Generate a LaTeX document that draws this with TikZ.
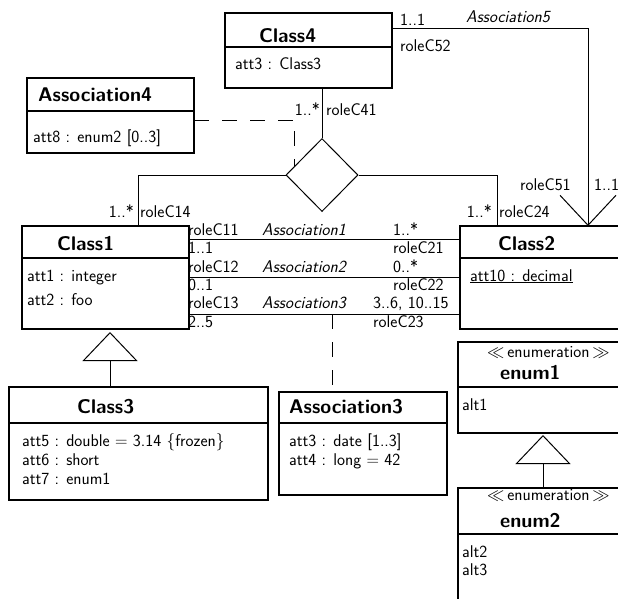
\documentclass[tikz,border=0pt]{standalone}
\usepackage{fontspec}
\renewcommand{\familydefault}{\sfdefault}
\usetikzlibrary{shapes.geometric,arrows.meta,calc}
\begin{document}
\begin{tikzpicture}[x=1pt,y=-1pt,
  box/.style={draw,line width=1.1pt,inner sep=0pt,outer sep=0pt},
  sepline/.style={line width=2pt},
  conn/.style={line width=1pt},
  dashconn/.style={line width=1pt,dash pattern=on 15pt off 13pt},
  ttl/.style={font=\fontsize{19.8}{23}\selectfont\bfseries,anchor=base west,inner sep=0pt},
  att/.style={font=\fontsize{17}{20}\selectfont,anchor=base west,inner sep=0pt},
  lbl/.style={font=\fontsize{17}{20}\selectfont,inner sep=0pt,text height=11.5pt,text depth=0pt},
  ilbl/.style={lbl,font=\fontsize{17}{20}\selectfont\itshape},
  inh/.style={line width=1pt,-{Triangle[open,length=29pt,width=55pt,line width=1pt]}},
  nav/.style={line width=1pt,-{Straight Barb[length=30pt,width=56pt,line width=1pt]}},
]
\useasboundingbox (0,0) rectangle (618,598);
\clip (0,0) rectangle (618,598);

% ---------- boxes ----------
\node[box,minimum width=167pt,minimum height=75pt] (c4) at (308.5,50.5) {};
\node[box,minimum width=167pt,minimum height=75pt] (a4) at (110.5,115.5) {};
\node[box,minimum width=167pt,minimum height=103pt] (c1) at (105.5,277.5) {};
\node[box,minimum width=200pt,minimum height=103pt] (c2) at (560,277.5) {};
\node[box,minimum width=259pt,minimum height=113pt] (c3) at (138.5,443.5) {};
\node[box,minimum width=168pt,minimum height=103pt] (a3) at (363,443.5) {};
\node[box,minimum width=202pt,minimum height=91pt] (e1) at (559,387.5) {};
\node[box,minimum width=202pt,minimum height=152pt] (e2) at (559,564) {};
\node[draw,diamond,line width=1pt,minimum width=72pt,minimum height=73pt,inner sep=0pt] (dia) at (322,175) {};

% separators
\draw[sepline] (c4.west |- 0,47) -- (c4.east |- 0,47);
\draw[sepline] (a4.west |- 0,111) -- (a4.east |- 0,111);
\draw[sepline] (c1.west |- 0,258) -- (c1.east |- 0,258);
\draw[sepline] (c2.west |- 0,258) -- (c2.east |- 0,258);
\draw[sepline] (c3.west |- 0,423) -- (c3.east |- 0,423);
\draw[sepline] (a3.west |- 0,423) -- (a3.east |- 0,423);
\draw[sepline] (e1.west |- 0,387) -- (e1.east |- 0,387);
\draw[sepline] (e2.west |- 0,534) -- (e2.east |- 0,534);

% ---------- texts in boxes ----------
\node[ttl] (c4t) at (259,42) {Class4};
\node[att] (c4a) at (235,69) {att3 : Class3};
\node[ttl] (a4t) at (38,101) {Association4};
\node[att] (a4a) at (33,142) {att8 : enum2 [0..3]};
\node[ttl] (c1t) at (57,250) {Class1};
\node[att] (c1a) at (27,281) {att1 : integer};
\node[att] (c1b) at (27,305) {att2 : foo};
\node[ttl] (c2t) at (498,250) {Class2};
\node[att] (c2a) at (470,281) {\underline{att10 : decimal}};
\node[ttl] (c3t) at (77,413) {Class3};
\node[att] (c3a) at (22,446) {att5 : double $=$ 3.14 $\{$frozen$\}$};
\node[att] (c3b) at (22,465) {att6 : short};
\node[att] (c3c) at (22,484) {att7 : enum1};
\node[ttl] (a3t) at (289,413) {Association3};
\node[att] (a3a) at (289,446) {att3 : date [1..3]};
\node[att] (a3b) at (289,465) {att4 : long $=$ 42};
\node[att] (e1s) at (487,357) {$\ll$\,enumeration\,$\gg$};
\node[ttl] (e1t) at (500,379) {enum1};
\node[att] (e1a) at (462,410) {alt1};
\node[att] (e2s) at (487,500) {$\ll$\,enumeration\,$\gg$};
\node[ttl] (e2t) at (500,527) {enum2};
\node[att] (e2a) at (462,557) {alt2};
\node[att] (e2b) at (462,575) {alt3};

% ---------- helper coordinates ----------
\coordinate (x5) at (588,0);
\coordinate (x14) at (138,0);
\coordinate (x24) at (497,0);
\coordinate (x3) at (332,0);
\coordinate (xg1) at (110,0);
\coordinate (xg2) at (543,0);
\coordinate (dpt) at ($(dia.west)!0.25!(dia.north)$);

% ---------- connectors ----------
\draw[conn] (c4.south -| dia.north) -- (dia.north);
\draw[conn] (dia.west) -| (c1.north -| x14);
\draw[conn] (dia.east) -| (c2.north -| x24);
\draw[dashconn] (a4.east |- 0,120) -| (dpt);
\draw[nav] (c4.east |- 0,28) -| (c2.north -| x5);
\draw[conn] (c1.east |- 0,239) -- (c2.west |- 0,239);
\draw[conn] (c1.east |- 0,277) -- (c2.west |- 0,277);
\draw[conn] (c1.east |- 0,314) -- (c2.west |- 0,314);
\draw[dashconn] (x3 |- 0,314) -- (x3 |- a3.north);
\draw[inh] (xg1 |- c3.north) -- ($(xg1 |- c1.south)+(0,3)$);
\draw[inh] (xg2 |- e2.north) -- ($(xg2 |- e1.south)+(0,2)$);

% ---------- connector labels ----------
\node[lbl,anchor=west] (l1) at (400,20) {1..1};
\node[ilbl,anchor=west] (l2) at (466,17) {Association5};
\node[lbl,anchor=west] (l3) at (400,46) {roleC52};
\node[lbl,anchor=west] (l4) at (520,185) {roleC51};
\node[lbl,anchor=west] (l5) at (594,185) {1..1};
\node[lbl,anchor=east] (l6) at (320,110) {1..*};
\node[lbl,anchor=west] (l7) at (326,110) {roleC41};
\node[lbl,anchor=east] (l8) at (134,212) {1..*};
\node[lbl,anchor=west] (l9) at (140,212) {roleC14};
\node[lbl,anchor=east] (l10) at (492,212) {1..*};
\node[lbl,anchor=west] (l11) at (499,212) {roleC24};

\node[lbl,anchor=west] (r11) at (188,230) {roleC11};
\node[ilbl,anchor=west] (n1) at (262,230) {Association1};
\node[lbl,anchor=west] (m21) at (393,230) {1..*};
\node[lbl,anchor=west] (m11) at (188,248) {1..1};
\node[lbl,anchor=west] (r21) at (393,248) {roleC21};

\node[lbl,anchor=west] (r12) at (188,267) {roleC12};
\node[ilbl,anchor=west] (n2) at (262,267) {Association2};
\node[lbl,anchor=west] (m22) at (393,267) {0..*};
\node[lbl,anchor=west] (m12) at (188,285) {0..1};
\node[lbl,anchor=west] (r22) at (393,285) {roleC22};

\node[lbl,anchor=west] (r13) at (188,303) {roleC13};
\node[ilbl,anchor=west] (n3) at (262,303) {Association3};
\node[lbl,anchor=west] (m23) at (373,303) {3..6, 10..15};
\node[lbl,anchor=west] (m13) at (188,322) {2..5};
\node[lbl,anchor=west] (r23) at (373,322) {roleC23};
\end{tikzpicture}
\end{document}
